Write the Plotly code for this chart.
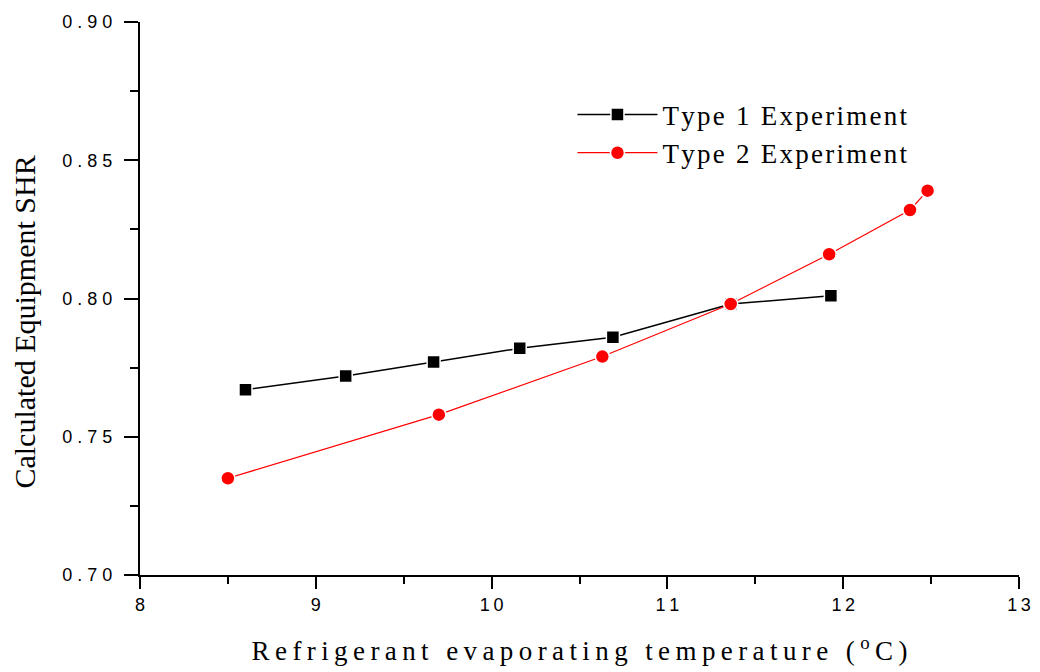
import plotly.graph_objects as go

# Evaporating temperature (°C) and calculated SHR for each experiment type
type1_temp = [8.60, 9.17, 9.67, 10.16, 10.69, 11.36, 11.93]
type1_shr = [0.767, 0.772, 0.777, 0.782, 0.786, 0.798, 0.801]

type2_temp = [8.50, 9.70, 10.63, 11.36, 11.92, 12.38, 12.48]
type2_shr = [0.735, 0.758, 0.779, 0.798, 0.816, 0.832, 0.839]

x_ticks = [8, 9, 10, 11, 12, 13]
y_ticks = [0.70, 0.75, 0.80, 0.85, 0.90]

SP = "\u2009"  # thin space used for letter spacing


def spaced(s, sep=SP):
    return sep.join(list(s))


fig = go.Figure()

fig.add_trace(go.Scatter(
    x=type1_temp, y=type1_shr, mode="lines+markers",
    name=spaced("Type 1 Experiment", "\u200a"),
    line=dict(color="black", width=1.5),
    marker=dict(symbol="square", size=13, color="black",
                line=dict(color="white", width=1.5)),
))
fig.add_trace(go.Scatter(
    x=type2_temp, y=type2_shr, mode="lines+markers",
    name=spaced("Type 2 Experiment", "\u200a"),
    line=dict(color="red", width=1.2),
    marker=dict(symbol="circle", size=14, color="red",
                line=dict(color="white", width=1.5)),
))

sans = "Liberation Sans, Arial, sans-serif"
serif = "Liberation Serif, Times New Roman, serif"

fig.update_layout(
    width=1040, height=672,
    margin=dict(l=140, r=21, t=22, b=97),
    paper_bgcolor="white", plot_bgcolor="white",
    showlegend=True,
    legend=dict(
        x=0.492, y=0.876, xanchor="left", yanchor="top",
        font=dict(family=serif, size=27, color="black"),
        bgcolor="rgba(0,0,0,0)", itemwidth=80, tracegroupgap=0,
    ),
    xaxis=dict(
        range=[8, 13], automargin=False,
        tickmode="array", tickvals=x_ticks,
        ticktext=[spaced(str(v)) for v in x_ticks],
        ticks="outside", ticklen=12, tickwidth=2, tickcolor="black",
        minor=dict(dtick=0.5, ticks="outside", ticklen=7, tickwidth=2,
                   tickcolor="black", showgrid=False),
        showline=True, linecolor="black", linewidth=2,
        showgrid=False, zeroline=False,
        tickfont=dict(family=sans, size=18, color="black"),
        title=dict(
            text=spaced("Refrigerant evaporating temperature (") + SP
            + "<sup>o</sup>" + SP + "C" + SP + ")",
            font=dict(family=serif, size=27, color="black"),
            standoff=28,
        ),
    ),
    yaxis=dict(
        range=[0.70, 0.90], automargin=False,
        tickmode="array", tickvals=y_ticks,
        ticktext=[spaced(f"{v:.2f}", "\u00a0") for v in y_ticks],
        ticks="outside", ticklen=14, tickwidth=2, tickcolor="black",
        minor=dict(dtick=0.025, ticks="outside", ticklen=8, tickwidth=2,
                   tickcolor="black", showgrid=False),
        showline=True, linecolor="black", linewidth=2,
        showgrid=False, zeroline=False,
        ticklabelstandoff=8,
        tickfont=dict(family=sans, size=18, color="black"),
    ),
    annotations=[dict(
        text="Calculated Equipment SHR",
        xref="paper", yref="paper", x=-0.131, y=0.458,
        xanchor="center", yanchor="middle", textangle=-90,
        showarrow=False,
        font=dict(family=serif, size=30, color="black"),
    )],
)

fig.write_html("out.html")
